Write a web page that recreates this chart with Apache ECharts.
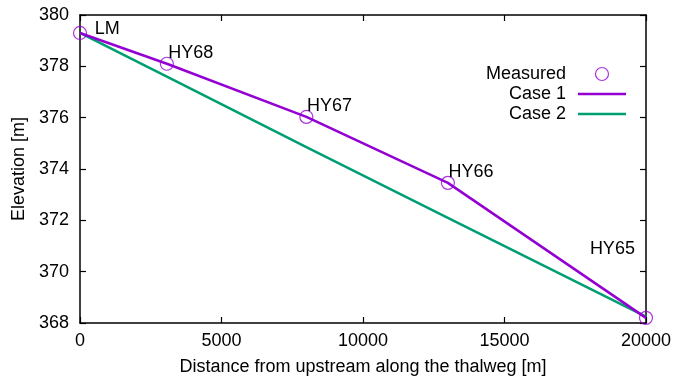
<!DOCTYPE html>
<html lang="en">
<head>
    <meta charset="UTF-8">
    <title>Thalweg profile</title>
    <script src="https://cdn.jsdelivr.net/npm/echarts@6/dist/echarts.min.js"></script>
    <style type="text/css">
        body{
            margin:0;
            background:#fff;
        }
    </style>
</head>
<body>
<div id="main" style="width: 674px;height:383px;"></div>
<script type="text/javascript">
    // stations along the river
    var stationNames = ['LM', 'HY68', 'HY67', 'HY66', 'HY65'];
    var stationDist = [0, 3070, 8000, 13000, 20000];
    var measuredElev = [379.3, 378.1, 376.03, 373.46, 368.2];
    var case1Elev = [379.3, 378.1, 376.03, 373.46, 368.2];
    var case2Elev = [379.3, 377.6, 374.85, 372.1, 368.25];
    // where the station names are written (data units)
    var labelDist = [500, 3100, 8000, 13000, 18000];
    var labelElev = [379.45, 378.5, 376.45, 373.9, 370.9];

    var xTicks = {min: 0, max: 20000, interval: 5000};
    var yTicks = {min: 368, max: 380, interval: 2};

    var font = 'Liberation Sans, Arial, sans-serif';
    var fs = 18;
    var purple = '#9400d3';
    var green = '#009e73';
    var lineIcon = 'path://M0,0 L48,0 L48,2.5 L0,2.5 Z';

    function pairs(xs, ys) {
        var out = [];
        for (var i = 0; i < xs.length; i++) {
            out.push([xs[i], ys[i]]);
        }
        return out;
    }

    var labelData = [];
    for (var i = 0; i < stationNames.length; i++) {
        labelData.push({name: stationNames[i], value: [labelDist[i], labelElev[i]]});
    }

    var axisLine = {show: true, onZero: false, lineStyle: {color: '#000', width: 1.5}};
    var tick = {show: true, inside: true, length: 6, lineStyle: {color: '#000', width: 1.2}};

    var myChart = echarts.init(document.getElementById('main'));
    var option = {
        animation: false,
        textStyle: {fontFamily: font},
        grid: {left: 80, right: 27, top: 15, bottom: 60},
        legend: {
            data: [
                {name: 'Measured', icon: 'circle', itemStyle: {color: 'transparent', borderColor: purple, borderWidth: 1.2}},
                {name: 'Case 1', icon: lineIcon},
                {name: 'Case 2', icon: lineIcon}
            ],
            orient: 'vertical',
            align: 'right',
            right: 48,
            top: 65,
            padding: 0,
            itemGap: 2,
            itemWidth: 48,
            itemHeight: 13,
            textStyle: {fontFamily: font, fontSize: fs, color: '#000', padding: [0, 7, 0, 0]}
        },
        xAxis: [{
            type: 'value',
            min: xTicks.min, max: xTicks.max, interval: xTicks.interval,
            name: 'Distance from upstream along the thalweg [m]',
            nameLocation: 'middle',
            nameGap: 35,
            nameTextStyle: {fontFamily: font, fontSize: fs, color: '#000'},
            axisLine: axisLine,
            axisTick: tick,
            axisLabel: {fontFamily: font, fontSize: fs, color: '#000', margin: 9,
                formatter: function (v) { return String(v); }},
            splitLine: {show: false}
        }, {
            type: 'value',
            position: 'top',
            min: xTicks.min, max: xTicks.max, interval: xTicks.interval,
            axisLine: axisLine,
            axisTick: tick,
            axisLabel: {show: false},
            splitLine: {show: false}
        }],
        yAxis: [{
            type: 'value',
            min: yTicks.min, max: yTicks.max, interval: yTicks.interval,
            name: 'Elevation [m]',
            nameLocation: 'middle',
            nameGap: 52,
            nameTextStyle: {fontFamily: font, fontSize: fs, color: '#000'},
            axisLine: axisLine,
            axisTick: tick,
            axisLabel: {fontFamily: font, fontSize: fs, color: '#000', margin: 11},
            splitLine: {show: false}
        }, {
            type: 'value',
            position: 'right',
            min: yTicks.min, max: yTicks.max, interval: yTicks.interval,
            axisLine: axisLine,
            axisTick: tick,
            axisLabel: {show: false},
            splitLine: {show: false}
        }],
        series: [
            {
                name: 'Case 1',
                type: 'line',
                data: pairs(stationDist, case1Elev),
                symbol: 'none',
                color: purple,
                lineStyle: {color: purple, width: 2.5},
                z: 3
            },
            {
                name: 'Case 2',
                type: 'line',
                data: pairs(stationDist, case2Elev),
                symbol: 'none',
                color: green,
                lineStyle: {color: green, width: 2.5},
                z: 2
            },
            {
                name: 'Measured',
                type: 'scatter',
                data: pairs(stationDist, measuredElev),
                symbol: 'circle',
                symbolSize: 13,
                color: purple,
                itemStyle: {color: 'transparent', borderColor: purple, borderWidth: 1.2},
                z: 4
            },
            {
                name: 'labels',
                type: 'scatter',
                data: labelData,
                symbolSize: 1,
                itemStyle: {color: 'rgba(0,0,0,0)', opacity: 1},
                label: {
                    show: true,
                    position: 'right',
                    distance: 0,
                    formatter: '{b}',
                    fontFamily: font,
                    fontSize: fs,
                    color: '#000',
                    opacity: 1
                },
                silent: true,
                z: 5
            }
        ]
    };
    myChart.setOption(option);
</script>
</body>
</html>
